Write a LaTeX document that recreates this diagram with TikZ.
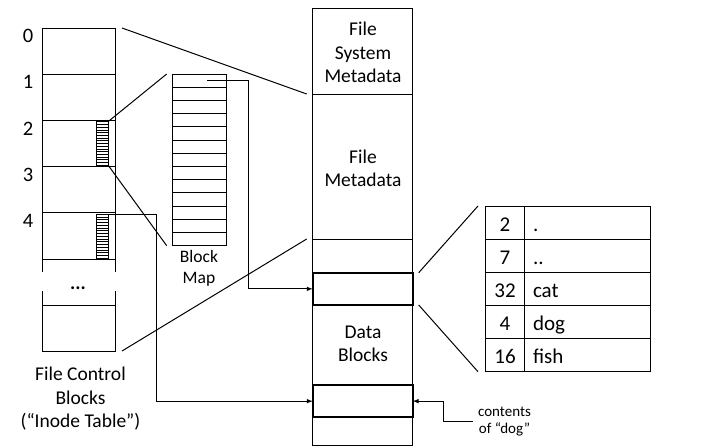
\documentclass[tikz,border=0pt]{standalone}
\usepackage{fontspec}
\setmainfont{Carlito}
\usetikzlibrary{calc}

\tikzset{
	blk/.style={draw, inner sep=0pt, outer sep=0pt, anchor=north west},
	thickblk/.style={blk, line width=2pt},
	lbl/.style={font=\fontsize{19.5}{23.5}\selectfont, align=center, inner sep=0pt},
	tbl/.style={font=\fontsize{21}{25}\selectfont, inner sep=0pt}
}

\begin{document}
\begin{tikzpicture}[x=1pt, y=-1pt, line width=1pt]
			%%%%% START %%%%%
			\useasboundingbox (0,0) rectangle (704,447);
			
			% inode table
			\node[blk, minimum width=73pt, minimum height=323pt] (fcb) at (42,28) {};
			\foreach \y in {74,120,166,212,259,305}
				\draw (42,\y) -- (115,\y);
			\fill[white] (38,272) rectangle (119,291);
			\node[lbl] (dots) at (78,288) {\textbf{...}};
			\foreach \i in {0,...,4}
				\node[lbl, font=\fontsize{20.5}{24}\selectfont] (row\i) at (28,{36+46.2*\i}) {\i};
			\node[lbl] (fcblbl) at (80.5,399) {File Control\\Blocks\\(“Inode Table”)};
			
			% little strips
			\node[blk, line width=0.6pt, minimum width=12pt, minimum height=43.3pt] (strip2) at (96,121.7) {};
			\node[blk, line width=0.6pt, minimum width=12pt, minimum height=44pt] (strip4) at (96,214) {};
			\foreach \k in {1,...,15} {
				\draw[line width=0.5pt] (96,{121.7+\k*43.3/16}) -- (108,{121.7+\k*43.3/16});
				\draw[line width=0.5pt] (96,{214+\k*44/16}) -- (108,{214+\k*44/16});
			}
			
			% block map
			\node[blk, minimum width=53.3pt, minimum height=171.7pt] (bmap) at (172.7,74) {};
			\foreach \k in {1,...,12}
				\draw (172.7,{74+\k*13.21}) -- (226,{74+\k*13.21});
			\node[lbl, font=\fontsize{17.5}{21}\selectfont] (bmaplbl) at (199,268.5) {Block\\Map};
			\coordinate (bm0) at (207,80.6);
			
			% disk
			\node[blk, minimum width=100pt, minimum height=437.4pt] (disk) at (312.7,8.3) {};
			\draw (312.7,94) coordinate (fsmbot) -- (412.7,94);
			\draw (312.7,239) coordinate (fmbot) -- (412.7,239);
			\node[thickblk, minimum width=100pt, minimum height=32.3pt] (dirblk) at (312.7,272.7) {};
			\node[thickblk, minimum width=100pt, minimum height=32.3pt] (dogblk) at (312.7,385) {};
			\node[lbl] (fsm) at (363,52.5) {File\\System\\Metadata};
			\node[lbl] (fm) at (363,168.5) {File\\Metadata};
			\node[lbl] (data) at (363,343.8) {Data\\Blocks};
			
			% directory
			\node[blk, minimum width=165.7pt, minimum height=165.7pt] (dir) at (485,206) {};
			\draw (524.7,206) -- (524.7,371.7);
			\foreach \k in {1,...,4}
				\draw (485,{206+\k*33.14}) -- (650.7,{206+\k*33.14});
			\foreach \num/\name [count=\k from 0] in {2/{.}, 7/{..}, 32/cat, 4/dog, 16/fish} {
				\node[tbl, anchor=base] (num\k) at (505,{206+\k*33.14+25.2}) {\num};
				\node[tbl, anchor=base west] (name\k) at (532.5,{206+\k*33.14+25.2}) {\name};
			}
			\node[lbl, font=\fontsize{15}{17}\selectfont] (cont) at (504.5,421.5) {contents\\of “dog”};
			
			% connectors
			\draw ([xshift=7pt]fcb.north east) -- ([xshift=-6pt]fsmbot);
			\draw ([xshift=7pt]fcb.south east) -- ([xshift=-6pt]fmbot);
			\draw (strip2.north east) -- ([xshift=-6pt]bmap.north west);
			\draw (strip2.south east) -- ([xshift=-6pt]bmap.south west);
			\draw[-latex] (bm0) -- ++(41.3,0) |- (dirblk.west);
			\draw[-latex] (strip4.north east) -- ++(48.7,0) |- (dogblk.west);
			\draw ([xshift=6pt]dirblk.north east) -- ([xshift=-7pt]dir.north west);
			\draw ([xshift=6pt]dirblk.south east) -- ([xshift=-7pt]dir.south west);
			\draw[-latex] ([xshift=-5pt]cont.west) -- ++(-29,0) |- (dogblk.east);
			
			%%%%% END %%%%%
		\end{tikzpicture}
\end{document}
